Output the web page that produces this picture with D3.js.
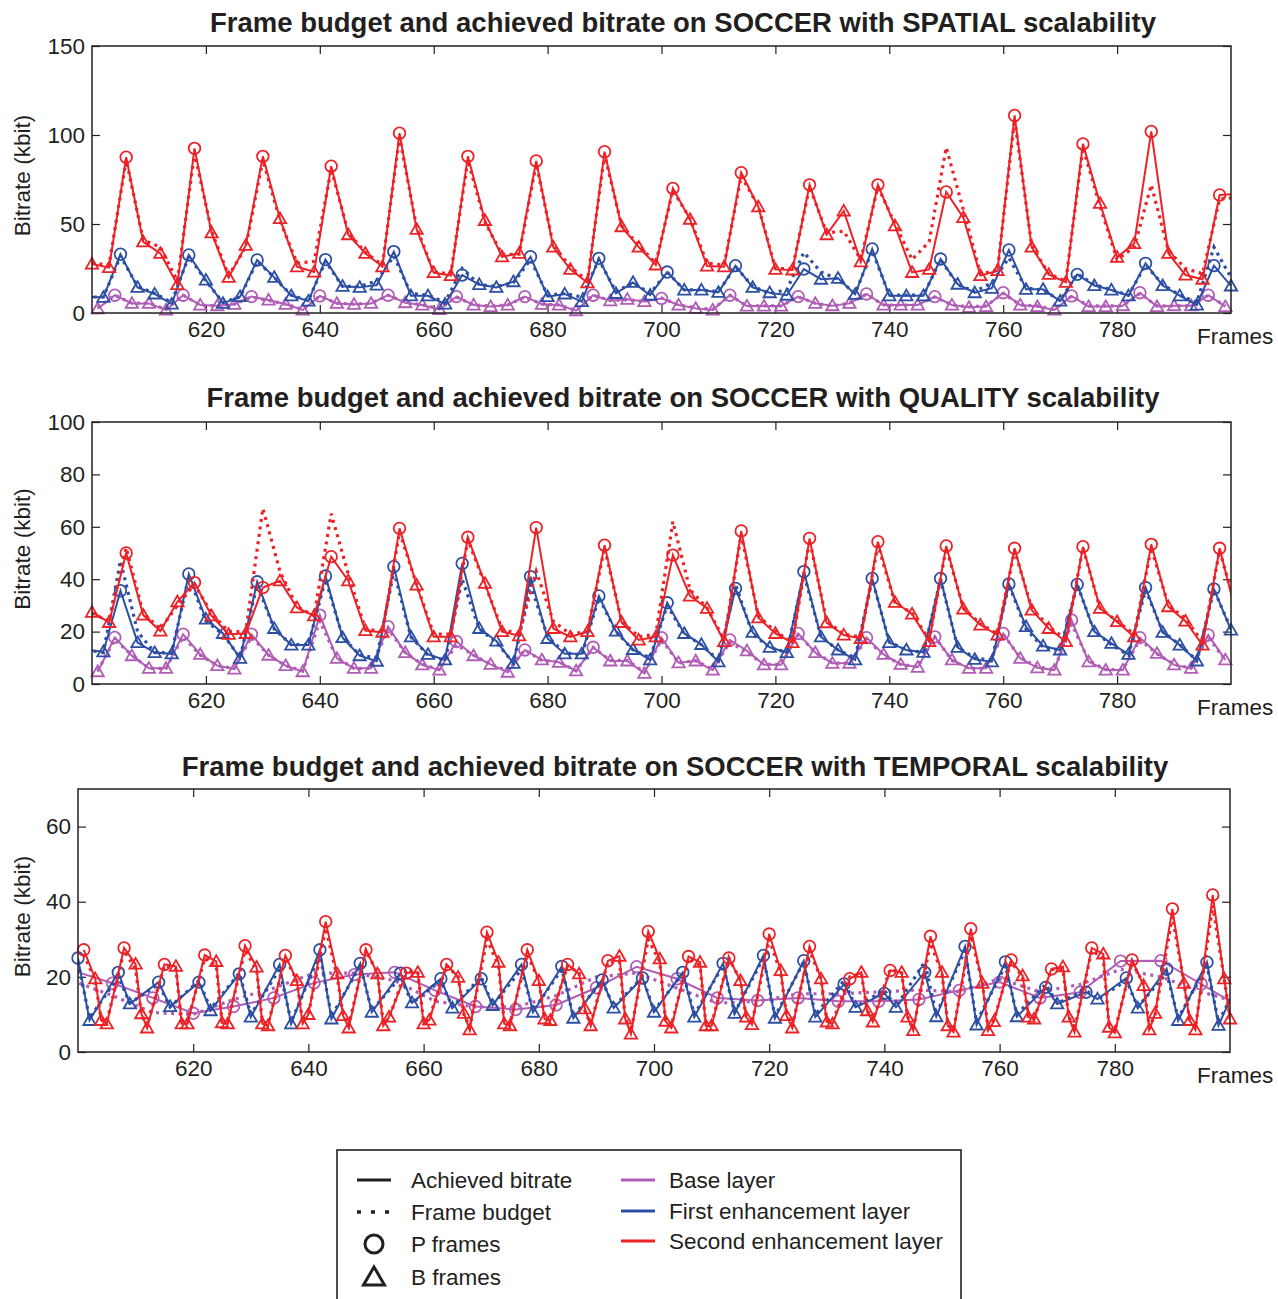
<!DOCTYPE html>
<html>
<head>
<meta charset="utf-8">
<script src="https://cdn.jsdelivr.net/npm/d3@7"></script>
<style>
body { margin: 0; background: #fff; }
text { font-family: "Liberation Sans", Arial, Helvetica, sans-serif; fill: #231f20; }
</style>
</head>
<body>
<svg id="chart" width="1278" height="1299"></svg>
<script>
// colours of the three layers
const RED = '#ec2227',
      BLUE = '#2c4fa3',
      PURPLE = '#b05db6';

// spatial scalability, one value every 3 frames per layer
const spRed = [27.5,25.5,87.5,40, 33.5,16,92.5,45, 20,38,88,53, 26,23,82.5,44, 33.5,26,101,47, 22.7,21,88,52, 31.6,33.5,85.4,37,
  24.5,17,90.6,48.5, 37,27,70,52.6, 26.4,26,78.8,59.7, 24.5,24.2,72,44, 57.3,28.8,72,49, 22.8,24.5,68,53.6, 21,23.8,111,37,
  21.7,17.2,95,61.6, 31.3,39,102,33.5, 21.3,19,66.3,67];
const spRedBud = [28,27,86,41, 37,18,90,46, 21,37,86,52, 28,29,81,45, 34,27,99,48, 23,22,86,51, 33,33,84,38, 26,18,89,49,
  38,28,69,53, 28,27,77,60, 25,25,71,45, 46,30,71,50, 30,40,93,58, 22,24,109,38, 22,18,93,60, 30,37,72,35, 25,22,64,65];
const spBlue = [9,8.8,33,14.4, 10.7,5,32.6,18.5, 5.4,9.2,29.8,20, 9.7,6.7,30,15, 14.4,15.7,34.5,9.7, 9.7,5,21.3,16, 14.4,17.6,31.6,9.2,
  10.7,6.4,30.7,11, 17.2,10,23,12.9, 12.9,11.6,26.6,14.4, 11.4,10,24.7,19, 19.5,10.5,36,9.7, 9.7,9.7,30.3,16.2, 11.4,13.9,35.4,13.3,
  13.3,6.7,21.7,15.4, 12.9,9.7,27.9,15.4, 9.7,4.5,26.6,15.2];
const spBlueBud = [9,9,32,15, 11,6,32,18, 6,9,29,20, 10,7,29,15, 15,18,32,11, 10,6,25,16, 15,17,30,10, 11,9,30,12, 17,11,23,13,
  13,12,26,15, 11,13,34,23, 19,11,35,10, 10,10,30,16, 12,17,31,14, 13,7,22,16, 13,10,27,16, 10,6,37,20];
const spPurple = [2.4,10,5.4,5.4, 1.7,10,4.5,4.1, 4.9,9.2,7.3,4.9, 1.7,9.6,5.4,4.9, 5.4,10,5.8,4.5, 2,9.2,4.5,3.6, 4.5,9.2,4.9,4.5,
  1.3,10,6.9,7.7, 6.4,8.2,4.5,2.6, 1.7,10,3.9,3.9, 3.9,9.2,5.4,4.1, 5.4,10.7,4.5,4.5, 4.5,9.2,4.5,3.2, 3.6,11.4,4.5,3.6,
  1.7,9.6,3.6,3.6, 4.1,11.4,3.6,4.1, 4.1,10,3.6];
const spPurpleBud = [3,10,5.5,5.5, 2,10,4.5,4, 5,9,7,5, 2,9.5,5.5,5, 5.5,10,6,4.5, 2.5,9,4.5,4, 4.5,9,5,4.5, 1.5,10,7,7.5,
  6.5,8.5,4.5,3, 2,10,4,4, 4,9,5.5,4, 5.5,10.5,4.5,4.5, 4.5,9,4.5,3.5, 4,11,4.5,4, 2,9.5,4,4, 4,11,4,4, 4,10,4];

// quality scalability
const qlRed = [27.4,23.5,50,26.3, 20.2,31.4,38.7,26, 19,19.3,36.8,39.4, 29.1,26,48.6,39.4, 20.4,19.7,59.4,37.8, 18,18,56,38.4,
  20,18.4,59.7,21.2, 18,20,53,23.5, 16.8,18,49.2,33.6, 28.9,16.2,58.4,25.3, 19.3,15.8,55.6,23.4, 18.7,17.4,54.3,31.2,
  26.7,16.2,52.7,28.6, 22.5,18.7,51.8,28.2, 21.2,16.2,52.4,28.9, 23.8,18,53.3,29.5, 24,14.9,51.8,26];
const qlRedBud = [27,24,52,27, 21,30,38,27, 20,20,67,43, 29.5,26,65,42, 21,20,58,38, 19,19,55,38, 21,19,43,24, 19,20,52,24,
  18,19,62,36, 29,17,57,26, 20,16,55,24, 19,18,53,31, 27,17,52,29, 23,19,51,29, 22,17,52,29, 24,19,52,30, 25,16,51,28];
const qlBlue = [13,12.3,35.6,15.8, 12,11.5,42,24.8, 19.3,9.8,39,21.2, 14.9,14.9,41.2,17.7, 10.8,8.7,44.8,18, 11.3,9.2,46,21.2,
  16.4,7.9,41,17.4, 11.5,11.5,33.6,20.2, 13.2,9.2,31,19.3, 15.1,8.5,36.5,19.7, 14,12,42.9,18, 13,9.2,40.3,15.8,
  13,12.1,40.3,14, 9.4,8.5,38.2,21.9, 14.5,13,38,20, 15.5,11.3,36.8,19.7, 14.9,8.8,36.3,20.6];
const qlBlueBud = [13,12,47,20, 12,12,41,24, 19,10,38,21, 15,15,40,18, 11,10,43,18, 11,9,40,21, 16,8,38,18, 12,11,33,20,
  13,10,30,19, 15,9,38,19, 14,12,42,18, 13,10,40,16, 13,12,40,14, 10,9,38,21, 14,13,38,20, 15,11,36,20, 15,9,36,21];
const qlPurple = [4.7,17.8,10.8,6, 6,19,11.3,7, 5.7,19,11,7, 4.7,26.3,9.8,6, 6,21.9,12,7.3, 5.3,16.2,10.8,7.5, 4.5,13,9.2,8.3,
  5,14,8.8,8.8, 4.1,17.7,8.1,8.8, 5.3,16.8,12.7,7.3, 7.3,19.3,12,7.9, 7.9,17.7,11.3,7.5, 6.4,18,9.2,6, 6,19.3,9.8,6.2,
  5.3,24.4,8.5,5.3, 5.3,17.7,11.7,7.3, 6,18.7,9.2];
const qlPurpleBud = [5,17,11,6, 6,18,11,7, 6,18,11,7, 5,24,10,6, 6,21,12,7.5, 5.5,15,11,7.5, 5,13,9,8.5, 5,14,9,9,
  4.5,17,8,9, 5.5,16,12,7.5, 7.5,19,12,8, 8,17,11,7.5, 6.5,18,9,6, 6,19,10,6.5, 5.5,23,9,5.5, 5.5,17,11.5,7.5, 6,18,9];

// temporal scalability, groups of 7 frames
// red: P then three B frames per group
const tmpRed = [27.2,19.5,8.4,7.5, 27.7,23.4,10.2,6.4, 23.3,22.8,7.5,7.5, 25.8,24.1,7.8,7.5, 28.3,22.6,7.5,7, 25.7,19,7.5,10,
  34.7,20.8,9.7,6.4, 27.2,20.8,7,9.3, 21,21.2,7.5,8.5, 23.3,19.9,10.3,5.9, 31.9,23.9,7.5,7, 27.2,19,8.8,8.4, 23.3,20.8,11.5,7,
  24.3,25.5,8.8,4.8, 32.1,24.8,8.2,6.4, 25.4,23.9,7,7, 25,19,9.3,7.3, 31.4,21.7,9.7,6.4, 28.1,19.5,8,7.5, 19.5,21.2,11,8,
  21.7,21.2,9.3,5.7, 30.8,21.2,7,5.3, 32.8,18.3,5.7,8.1, 24.5,20.3,9.3,8.8, 22.1,22.7,9.3,5.3, 27.7,26.1,6.6,5.1,
  24.5,17.7,5.9,10.3, 38.1,18.3,8.4,5.9, 41.8,19.5,8.8,8.5];
const tmpRedBud = [26,19,9,8, 27,22,10,7, 23,22,8,8, 25,23,8,8, 27,22,8,7.5, 25,19,8,10, 33,20,10,7, 27,21,7.5,9, 22,21,8,9,
  23,20,10,6.5, 30,23,8,7.5, 26,19,9,8.5, 23,21,11,7.5, 24,24,9,5.5, 30,24,8.5,7, 25,23,7.5,7.5, 25,19,9.5,7.5, 30,21,10,7,
  27,19.5,8.5,8, 20,21,11,8.5, 22,21,9.5,6, 29,21,7.5,6, 31,18.5,6.5,8.5, 24,20,9.5,9, 22,22,9.5,6, 27,25,7,5.5,
  24,18,6.5,10, 36,18.5,8.5,6.5, 39,19.5,9,8.5];
// blue: one P and one B frame per group
const tmpBlueP = [25,21.2,18.6,18.6,20.8,23.3,27.2,23.6,21,19.5,19.5,23.3,22.8,19.2,19.7,21.2,23.6,25.7,24.3,18.1,
  15.6,21.2,28.1,24,17.2,15.9,19.7,22.1,23.9,24];
const tmpBlueB = [8.4,12.8,12.1,11,9.3,7.5,8.8,10.6,13.1,11.7,12.4,10.6,9,11.7,10.6,9.3,10.3,9,9.3,11.9,
  11.9,9.4,7.2,9.4,12.8,14.1,11.7,8.4,7.1];
const tmpBluePBud = [24,20,18,19,21,22,26,23,20,19,20,22,22,19,20,21,23,25,24,19,16.5,24,27,23,18,16.5,19,21,23,23];
const tmpBlueBBud = [9,13,12,11.5,10,8,9.5,11,13,12,12.5,11,9.5,12,11,10,10.5,9.5,10,12,12,10,8,10,13,14,12,9,8];
// purple: base layer only on P frames
const tmpPurple = [21.7,18.3,14.4,10.3,12.1,14.4,18.4,20.6,21.2,16.4,12.1,11.3,12.5,17.1,22.7,19.5,14.4,13.7,14.4,13.5,
  13.5,14,16.4,18.6,14.4,15.9,24.2,24.3,18.1,11.7];
const tmpPurpleBud = [19,15,10.5,10,14,17,21,21,19,13.5,12,12,15,20,21,17,13,13.5,15.5,15.5,16,16.5,16,19.5,16,18,22,20,16,13];

// axis ticks
const xTicks = [620, 640, 660, 680, 700, 720, 740, 760, 780];
const yTicksSpatial = [0, 50, 100, 150];
const yTicksQuality = [0, 20, 40, 60, 80, 100];
const yTicksTemporal = [0, 20, 40, 60];

const FONT = 22.5;

const svg = d3.select('#chart');

// build point lists for the layers
function everyThird(start, vals, buds, pOffset) {
  return vals.map((v, i) => {
    let f = start + 3 * i;
    return {f: f, v: v, b: buds[i], p: ((f - pOffset) % 12 + 12) % 12 === 0};
  });
}

let tRed = [];
tmpRed.forEach((v, i) => {
  let k = Math.floor(i / 4), j = i % 4;
  let f = 601 + 7 * k + (j === 0 ? 0 : j + 1);
  tRed.push({f: f, v: v, b: tmpRedBud[i], p: j === 0});
});
let tBlue = [];
tmpBlueP.forEach((v, k) => {
  tBlue.push({f: 600 + 7 * k, v: v, b: tmpBluePBud[k], p: true});
  if (k < tmpBlueB.length) tBlue.push({f: 602 + 7 * k, v: tmpBlueB[k], b: tmpBlueBBud[k], p: false});
});
let tPurple = tmpPurple.map((v, k) => ({f: 599 + 7 * k, v: v, b: tmpPurpleBud[k], p: true}));

const panels = [
  {id: 1, title: 'Frame budget and achieved bitrate on SOCCER with SPATIAL scalability', titleX: 683, titleY: 22,
   left: 92, right: 1231, top: 46, bottom: 313, ymax: 150, yTicks: yTicksSpatial,
   layers: [[everyThird(601, spPurple, spPurpleBud, 604), PURPLE],
            [everyThird(599, spBlue, spBlueBud, 605), BLUE],
            [everyThird(600, spRed, spRedBud, 606), RED]]},
  {id: 2, title: 'Frame budget and achieved bitrate on SOCCER with QUALITY scalability', titleX: 683, titleY: 397,
   left: 92, right: 1231, top: 422, bottom: 684, ymax: 100, yTicks: yTicksQuality,
   layers: [[everyThird(601, qlPurple, qlPurpleBud, 604), PURPLE],
            [everyThird(599, qlBlue, qlBlueBud, 605), BLUE],
            [everyThird(600, qlRed, qlRedBud, 606), RED]]},
  {id: 3, title: 'Frame budget and achieved bitrate on SOCCER with TEMPORAL scalability', titleX: 675, titleY: 766,
   left: 78, right: 1230, top: 789, bottom: 1052, ymax: 70, yTicks: yTicksTemporal,
   layers: [[tPurple, PURPLE], [tBlue, BLUE], [tRed, RED]]}
];

const tri = d3.symbol().type(d3.symbolTriangle).size(66);

function styleAxis(g) {
  g.select('.domain').remove();
  g.attr('font-size', FONT).attr('font-family', '"Liberation Sans", Arial, sans-serif');
  g.selectAll('.tick line').attr('stroke', '#231f20').attr('stroke-width', 1.2);
  g.selectAll('.tick text').attr('fill', '#231f20');
}

panels.forEach(p => {
  let x = d3.scaleLinear().domain([600, 800]).range([p.left, p.right]);
  let y = d3.scaleLinear().domain([0, p.ymax]).range([p.bottom, p.top]);

  svg.append('clipPath').attr('id', 'clip' + p.id)
    .append('rect').attr('x', p.left).attr('y', p.top)
    .attr('width', p.right - p.left).attr('height', p.bottom - p.top);

  // axes, ticks pointing inwards on all four sides
  svg.append('g').attr('transform', `translate(0,${p.bottom})`)
    .call(d3.axisBottom(x).tickValues(xTicks).tickSize(-8).tickPadding(8)).call(styleAxis);
  svg.append('g').attr('transform', `translate(0,${p.top})`)
    .call(d3.axisTop(x).tickValues(xTicks).tickSize(-8).tickFormat('')).call(styleAxis);
  svg.append('g').attr('transform', `translate(${p.left},0)`)
    .call(d3.axisLeft(y).tickValues(p.yTicks).tickSize(-8).tickPadding(7)).call(styleAxis);
  svg.append('g').attr('transform', `translate(${p.right},0)`)
    .call(d3.axisRight(y).tickValues(p.yTicks).tickSize(-8).tickFormat('')).call(styleAxis);

  let plot = svg.append('g');
  p.layers.forEach(([pts, col]) => {
    let budget = d3.line().x(d => x(d.f)).y(d => y(d.b));
    let achieved = d3.line().x(d => x(d.f)).y(d => y(d.v));
    plot.append('path').attr('d', budget(pts)).attr('clip-path', `url(#clip${p.id})`)
      .attr('fill', 'none').attr('stroke', col).attr('stroke-width', 3.2)
      .attr('stroke-dasharray', '3,4.5');
    plot.append('path').attr('d', achieved(pts)).attr('clip-path', `url(#clip${p.id})`)
      .attr('fill', 'none').attr('stroke', col).attr('stroke-width', 2);
    let inside = pts.filter(d => d.f >= 600 && d.f <= 800);
    plot.selectAll(null).data(inside.filter(d => d.p)).enter().append('circle')
      .attr('cx', d => x(d.f)).attr('cy', d => y(d.v)).attr('r', 5.8)
      .attr('fill', 'none').attr('stroke', col).attr('stroke-width', 1.8);
    plot.selectAll(null).data(inside.filter(d => !d.p)).enter().append('path')
      .attr('d', tri).attr('transform', d => `translate(${x(d.f)},${y(d.v) + 1})`)
      .attr('fill', 'none').attr('stroke', col).attr('stroke-width', 1.8);
  });

  // frame
  svg.append('rect').attr('x', p.left).attr('y', p.top)
    .attr('width', p.right - p.left).attr('height', p.bottom - p.top)
    .attr('fill', 'none').attr('stroke', '#231f20').attr('stroke-width', 1.5);

  svg.append('text').attr('x', p.titleX).attr('y', p.titleY).attr('dy', '0.36em')
    .attr('text-anchor', 'middle').attr('font-size', 27.5).attr('font-weight', 'bold').text(p.title);
  svg.append('text').attr('transform', `translate(22,${(p.top + p.bottom) / 2 - 4}) rotate(-90)`)
    .attr('dy', '0.36em').attr('text-anchor', 'middle').attr('font-size', FONT).text('Bitrate (kbit)');
  svg.append('text').attr('x', 1197).attr('y', p.bottom + 23).attr('dy', '0.36em')
    .attr('font-size', FONT).text('Frames');
});

// legend
let lg = svg.append('g');
lg.append('rect').attr('x', 337).attr('y', 1150).attr('width', 624).attr('height', 200)
  .attr('fill', '#fff').attr('stroke', '#231f20').attr('stroke-width', 1.6);

const legLeft = ['Achieved bitrate', 'Frame budget', 'P frames', 'B frames'];
const legRight = ['Base layer', 'First enhancement layer', 'Second enhancement layer'];
const legColors = [PURPLE, BLUE, RED];
const leftRows = [1180, 1212, 1244, 1277];
const rightRows = [1180, 1211, 1241];

legLeft.forEach((t, i) => {
  lg.append('text').attr('x', 411).attr('y', leftRows[i]).attr('dy', '0.36em').attr('font-size', FONT).text(t);
});
lg.append('line').attr('x1', 357).attr('x2', 391).attr('y1', leftRows[0]).attr('y2', leftRows[0])
  .attr('stroke', '#231f20').attr('stroke-width', 3);
lg.append('line').attr('x1', 357).attr('x2', 393).attr('y1', leftRows[1]).attr('y2', leftRows[1])
  .attr('stroke', '#231f20').attr('stroke-width', 3.5).attr('stroke-dasharray', '4,10');
lg.append('circle').attr('cx', 374).attr('cy', leftRows[2]).attr('r', 9)
  .attr('fill', 'none').attr('stroke', '#231f20').attr('stroke-width', 3);
lg.append('path').attr('d', d3.symbol().type(d3.symbolTriangle).size(190)())
  .attr('transform', `translate(374,${leftRows[3] + 2})`)
  .attr('fill', 'none').attr('stroke', '#231f20').attr('stroke-width', 3);

legRight.forEach((t, i) => {
  lg.append('line').attr('x1', 621).attr('x2', 655).attr('y1', rightRows[i]).attr('y2', rightRows[i])
    .attr('stroke', legColors[i]).attr('stroke-width', 3);
  lg.append('text').attr('x', 669).attr('y', rightRows[i]).attr('dy', '0.36em').attr('font-size', FONT).text(t);
});
</script>
</body>
</html>
